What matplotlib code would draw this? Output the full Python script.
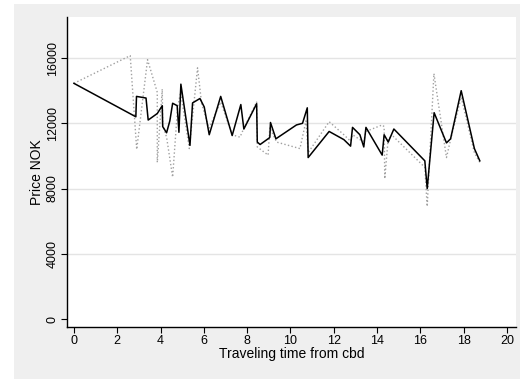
import matplotlib
matplotlib.use('Agg')
import matplotlib.pyplot as plt
from matplotlib.patches import Rectangle
import numpy as np

plt.rcParams['font.family'] = ['Liberation Sans', 'DejaVu Sans']

#%% data
# solid line (fitted price)
t_fit = [0, 2.86, 2.89, 3.33, 3.43, 3.85, 4.08, 4.10, 4.28, 4.43, 4.56, 4.77, 4.85,
         4.94, 5.36, 5.48, 5.82, 6.02, 6.25, 6.78, 7.31, 7.71, 7.85, 8.44, 8.47,
         8.60, 9.02, 9.05, 9.08, 9.33, 10.28, 10.56, 10.78, 10.82, 11.79, 12.47,
         12.78, 12.87, 13.21, 13.39, 13.49, 14.24, 14.33, 14.52, 14.78, 16.21,
         16.32, 16.64, 17.21, 17.40, 17.89, 18.50, 18.75]
p_fit = [14450, 12400, 13650, 13550, 12200, 12600, 13080, 11800, 11420, 12150,
         13230, 13080, 11450, 14400, 10650, 13250, 13520, 13000, 11300, 13650,
         11250, 13150, 11650, 13200, 10850, 10700, 11100, 11150, 12050, 11050,
         11900, 12000, 12950, 9900, 11500, 11000, 10600, 11750, 11300, 10550,
         11750, 10050, 11300, 10850, 11650, 9700, 8000, 12650, 10800, 11050,
         14000, 10450, 9700]

# dotted line (observed price)
t_obs = [0, 2.60, 2.90, 3.40, 3.85, 3.85, 4.08, 4.10, 4.28, 4.56, 4.79, 4.93,
         5.33, 5.71, 5.90, 6.24, 6.78, 7.31, 7.67, 7.85, 8.44, 8.47, 8.97, 9.05,
         9.36, 10.44, 10.72, 10.82, 11.79, 12.47, 12.78, 12.87, 13.21, 13.39,
         13.49, 14.24, 14.33, 14.36, 14.52, 14.75, 16.21, 16.32, 16.63, 17.21,
         17.40, 17.89, 18.50, 18.75]
p_obs = [14450, 16150, 10400, 15900, 13900, 9600, 14100, 11900, 11150, 8700,
         13000, 13900, 10450, 15400, 13200, 11700, 13300, 11300, 11150, 11700,
         13300, 10550, 10050, 11750, 10850, 10450, 12150, 10200, 12100, 11300,
         10900, 11300, 11000, 10900, 11500, 11900, 11800, 8600, 11100, 11200,
         9300, 6900, 15050, 9900, 11000, 13600, 10200, 9600]

#%% fig
fig = plt.figure(figsize=(5.26, 3.79), dpi=100, facecolor='white')
# grey graph region (white margin on left, top and right)
fig.patches.append(Rectangle((14/526, 0), (520-14)/526, 1-4/379,
                             transform=fig.transFigure, fc='#efefef', ec='none', zorder=-1))
ax = fig.add_axes([0.1274, 0.1372, 0.8535, 0.8180])
ax.set_facecolor('white')

for g in [4000, 8000, 12000, 16000]:
    ax.axhline(g, c='#e4e4e4', lw=1, zorder=0)

ax.plot(t_obs, p_obs, c='#a0a0a0', lw=1, ls=':', zorder=2)
ax.plot(t_fit, p_fit, c='k', lw=1.1, zorder=3)

ax.set_xlim([-0.32, 20.42])
ax.set_ylim([-490, 18520])
ax.set_xticks(np.arange(0, 21, 2))
ax.set_yticks(np.arange(0, 16001, 4000))
ax.set_yticklabels(['0', '4000', '8000', '12000', '16000'], rotation=90, va='center')
ax.tick_params(labelsize=9, length=4, width=0.8, color='k', pad=2)

for s in ['top', 'right']:
    ax.spines[s].set_visible(False)
for s in ['left', 'bottom']:
    ax.spines[s].set_linewidth(1)

ax.set_ylabel('Price NOK', fontsize=10, labelpad=2)
ax.set_xlabel('Traveling time from cbd', fontsize=10, labelpad=0)

plt.savefig('out.png', dpi=100, facecolor=fig.get_facecolor())
